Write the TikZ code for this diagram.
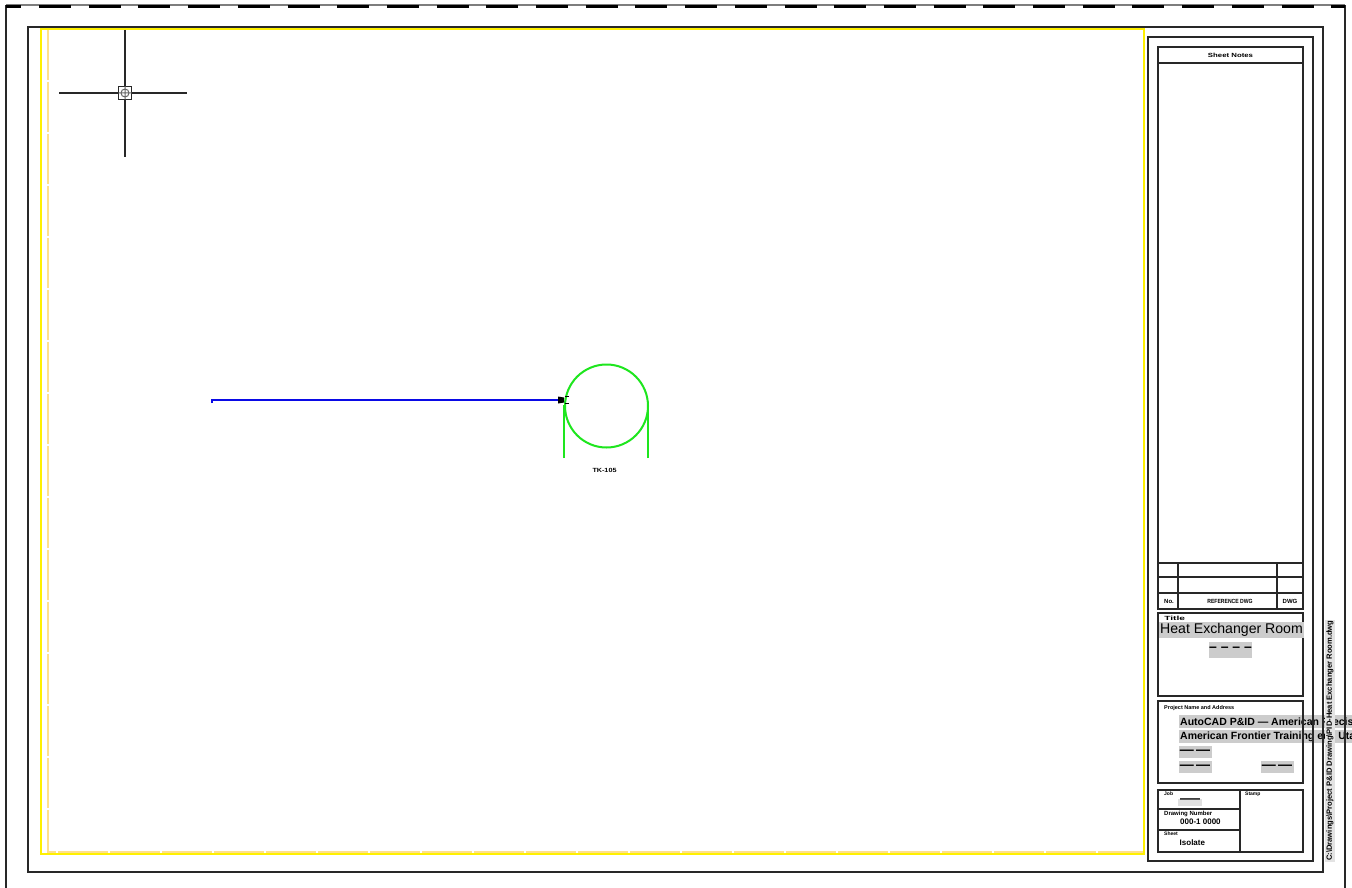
\documentclass[tikz,border=0pt]{standalone}
\usepackage{fontspec}
\setmainfont{Liberation Sans}
\definecolor{cadgrey}{RGB}{204,204,204}
\definecolor{cadyellow}{RGB}{255,240,0}
\definecolor{paleyellow}{RGB}{255,224,140}
\definecolor{cadgreen}{RGB}{30,230,30}
\definecolor{cadblue}{RGB}{10,10,230}
\definecolor{ink}{RGB}{40,40,40}
\newcommand{\lowdash}[1]{\raisebox{-1.5pt}{#1}}
\tikzset{
  frameline/.style={draw=ink,line width=1.8pt},
  thinline/.style={draw=ink,line width=1.5pt},
  tinylabel/.style={font=\fontsize{6}{7}\selectfont\bfseries,inner sep=0pt,text=black},
  midlabel/.style={font=\fontsize{6.5}{7}\selectfont\bfseries,inner sep=0pt,text=black,anchor=west},
  greylabel/.style={fill=cadgrey,inner sep=1pt,text=black},
  dashlabel/.style={fill=cadgrey,inner sep=0pt,text=black,font=\fontsize{14}{14}\selectfont\bfseries,minimum width=33pt,minimum height=12pt},
}
\begin{document}
\begin{tikzpicture}[x=1pt,y=-1pt]
\useasboundingbox (0,0) rectangle (1352,888);
\fill[white] (0,0) rectangle (1352,888);
% project lines, under the frames
\fill[cadgrey] (1179,715) rectangle (1352,727.5);
\fill[cadgrey] (1179,730) rectangle (1352,742.5);
\node[midlabel,font=\fontsize{10.5}{11}\selectfont\bfseries] at (1180,721.5) {AutoCAD P\&ID --- American Precision};
\node[midlabel,font=\fontsize{10.5}{11}\selectfont\bfseries] at (1180,736.5) {American Frontier Training ed / Utah};
% outer sheet
\coordinate (ol) at (6,888); \coordinate (otl) at (6,5);
\coordinate (or) at (1345,888); \coordinate (otr) at (1345,5);
\draw[draw=ink,line width=1.8pt] (ol) -- (otl);
\draw[draw=ink,line width=1.8pt] (or) -- (otr);
\draw[draw=ink!60,line width=1.2pt] (otl) -- (otr);
\draw[black,line width=2.6pt,dash pattern=on 32pt off 17.7pt,dash phase=16.7pt] (6,6.5) -- (1345,6.5);
% frame
\draw[frameline] (28,27) rectangle (1323,872);
% yellow limits
\draw[paleyellow,line width=2pt,dash pattern=on 50pt off 2pt] (48,30) -- (48,852) -- (1143,852);
\draw[cadyellow,line width=2pt] (40.5,29) rectangle (1144,854);
% title block frames
\draw[frameline] (1148,37) rectangle (1313,861);
\node[draw=ink,line width=1.5pt,minimum width=145pt,minimum height=16pt,inner sep=0pt] (notes) at (1230.5,55) {};
\node[tinylabel,xscale=1.3] at (notes.center) {Sheet Notes};
\draw[thinline] (1158,63) -- (1158,609) -- (1303,609) -- (1303,63);
\draw[thinline] (1158,563) -- (1303,563) (1158,577) -- (1303,577) (1158,593) -- (1303,593)
  (1178,563) -- (1178,609) (1277,563) -- (1277,609);
\node[tinylabel] at (1169,601.5) {No.};
\node[tinylabel,xscale=0.85] at (1230,601.5) {REFERENCE DWG};
\node[tinylabel] at (1290,601.5) {DWG};
% title box
\draw[thinline] (1158,613) rectangle (1303,696);
\node[tinylabel,anchor=west,xscale=1.7] at (1164,618) {Title};
\node[greylabel,anchor=west,font=\fontsize{14.1}{15}\selectfont,inner xsep=1pt,inner ysep=1pt] at (1159,630) {Heat Exchanger Room};
\node[dashlabel,minimum width=41pt,minimum height=16pt] at (1230.5,649.5) {\lowdash{– – – –}};
% project box
\draw[thinline] (1158,701) rectangle (1303,783);
\node[tinylabel,anchor=west,font=\fontsize{5.5}{6}\selectfont\bfseries] at (1164,708) {Project Name and Address};
\node[dashlabel] at (1195,752) {\lowdash{---\,---}};
\node[dashlabel] at (1195,767) {\lowdash{---\,---}};
\node[dashlabel] at (1277,767) {\lowdash{---\,---}};
% bottom box
\draw[thinline] (1158,790) rectangle (1303,852);
\draw[thinline] (1240,790) -- (1240,852) (1158,809) -- (1240,809) (1158,830) -- (1240,830);
\node[tinylabel,anchor=west,font=\fontsize{5}{6}\selectfont\bfseries] at (1164,794) {Job};
\node[tinylabel,anchor=west,font=\fontsize{5}{6}\selectfont\bfseries] at (1245,794) {Stamp};
\node[tinylabel,anchor=west] at (1164,814) {Drawing Number};
\node[tinylabel,anchor=west,font=\fontsize{5}{6}\selectfont\bfseries] at (1164,834) {Sheet};
\node[fill=cadgrey!60,inner sep=0pt,minimum width=24pt,minimum height=7pt,font=\fontsize{20}{7}\selectfont] at (1190,802) {\raisebox{-1pt}{---}};
\node[midlabel,font=\fontsize{8}{8}\selectfont\bfseries] at (1180,821.5) {000-1 0000};
\node[midlabel,font=\fontsize{8}{8}\selectfont\bfseries] at (1179.5,843) {Isolate};
% rotated file name
\node[fill=cadgrey!55,inner sep=1pt,rotate=90,anchor=west,font=\fontsize{7.6}{8}\selectfont\bfseries] at (1330,862) {C:\textbackslash Drawings\textbackslash Project P\&ID Drawing\textbackslash PID-Heat Exchanger Room.dwg};
% cursor
\coordinate (cc) at (125,93);
\draw[draw=ink,line width=1.3pt] (59,93) -- (187,93) (125,30) -- (125,157);
\node[draw=ink,fill=white,line width=1.5pt,minimum size=13pt,inner sep=0pt] (pick) at (cc) {};
\draw[draw=ink!70,line width=1pt] (cc) circle (4pt) (118.5,93) -- (131.5,93) (125,86.5) -- (125,99.5);
% equipment
\node[circle,draw=cadgreen,line width=2pt,minimum size=83pt,inner sep=0pt] (tank) at (606.5,406) {};
\coordinate (legl) at (564,458); \coordinate (legr) at (648,458);
\draw[cadgreen,line width=2pt] (legl) -- (564,405);
\draw[cadgreen,line width=2pt] (legr) -- (648,405);
\node[tinylabel,xscale=1.2] (tag) at (604.5,470) {TK-105};
% line
\coordinate (ls) at (212,403);
\coordinate (lk) at (212,400);
\coordinate (le) at (558,400);
\draw[cadblue,line width=1.8pt] (ls) -- (lk) -- (le);
\fill[black] (558,396.5) -- (564,397.5) -- (564,402.5) -- (558,403.5) -- cycle;
\draw[black,line width=1pt] (565,396.5) -- (569,396.5) (565,403.5) -- (569,403.5);
\end{tikzpicture}
\end{document}
